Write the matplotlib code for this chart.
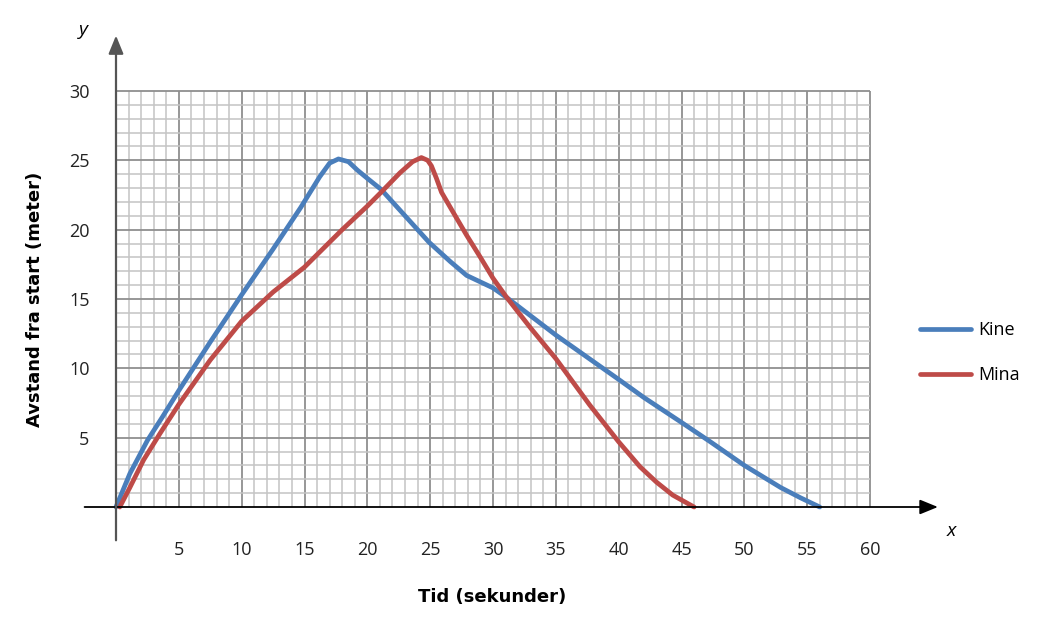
import numpy as np
import matplotlib
matplotlib.use("Agg")
import matplotlib.pyplot as plt

plt.rcParams['font.family'] = ['Open Sans', 'DejaVu Sans']

# data
kine_t = [0, 1.1, 2.5, 3.7, 5, 7.5, 10, 12.5, 14.7, 16.2, 17, 17.7, 18.5, 19.2, 20, 21.1,
          22.6, 24.9, 26.6, 27.9, 30, 31.1, 35, 40, 42, 45, 47.3, 50, 52.9, 54.5, 56]
kine_d = [0, 2.4, 4.8, 6.5, 8.4, 11.9, 15.3, 18.6, 21.6, 23.8, 24.8, 25.1, 24.9, 24.3, 23.7,
          22.9, 21.4, 19.1, 17.7, 16.7, 15.8, 15.1, 12.4, 9.2, 7.9, 6.1, 4.7, 3.0, 1.4, 0.65, 0]
mina_t = [0.3, 1.1, 2.2, 3.5, 5, 7.5, 10, 12.5, 15, 18, 20, 21.1, 22.6, 23.6, 24.3, 24.8,
          25.1, 25.5, 25.9, 26.8, 27.9, 29, 30, 31.1, 33, 35, 37.7, 40, 41.7, 43, 44.3, 45.8, 46]
mina_d = [0, 1.4, 3.4, 5.3, 7.4, 10.6, 13.4, 15.5, 17.3, 20.0, 21.7, 22.7, 24.1, 24.9, 25.2,
          25.0, 24.6, 23.7, 22.7, 21.3, 19.6, 18.0, 16.5, 15.1, 12.9, 10.7, 7.35, 4.7, 2.9,
          1.8, 0.86, 0.1, 0]
names = ['Kine', 'Mina']
colors = ['#4A7EBB', '#BE4B48']
x_ticks = [5, 10, 15, 20, 25, 30, 35, 40, 45, 50, 55, 60]
y_ticks = [5, 10, 15, 20, 25, 30]
x_max, y_max = 60, 30

fig = plt.figure(figsize=(10.52, 6.28), dpi=100)
# axes in pixel terms: x=0 at 116px, x=60 at 870px; y=0 at 507px, y=30 at 91px
W, H = 1052, 628
left_px, right_px, top_px, bot_px = 95, 940, 45, 535
ax = fig.add_axes([left_px / W, 1 - bot_px / H, (right_px - left_px) / W, (bot_px - top_px) / H])
sx = (870 - 116) / 60
sy = (507 - 91) / 30
ax.set_xlim(-(116 - left_px) / sx, (right_px - 116) / sx)
ax.set_ylim(-(bot_px - 507) / sy, (507 - top_px) / sy)

# grid paper
for v in np.arange(1, x_max + 1):
    major = v % 5 == 0
    ax.vlines(v, 0, y_max, color='#8f8f8f' if major else '#c4c4c4',
              lw=1.3 if major else 1.1, zorder=1)
for v in np.arange(1, y_max + 1):
    major = v % 5 == 0
    ax.hlines(v, 0, x_max, color='#8f8f8f' if major else '#c4c4c4',
              lw=1.3 if major else 1.1, zorder=1)

# axes with arrows
ax.annotate('', xy=(65.4, 0), xytext=(-2.5, 0), annotation_clip=False,
            arrowprops=dict(arrowstyle='-|>,head_length=1.1,head_width=0.45',
                            color='black', lw=1.3, shrinkA=0, shrinkB=0), zorder=4)
ax.annotate('', xy=(0, 34.0), xytext=(0, -2.4), annotation_clip=False,
            arrowprops=dict(arrowstyle='-|>,head_length=1.1,head_width=0.45',
                            color='#555555', lw=1.6, shrinkA=0, shrinkB=0), zorder=4)

ax.plot(kine_t, kine_d, color=colors[0], lw=3.4, label=names[0],
        solid_joinstyle='round', solid_capstyle='round', zorder=3)
ax.plot(mina_t, mina_d, color=colors[1], lw=3.4, label=names[1],
        solid_joinstyle='round', solid_capstyle='round', zorder=3)

for s in ax.spines.values():
    s.set_visible(False)
ax.set_xticks(x_ticks)
ax.set_yticks(y_ticks)
ax.tick_params(length=0, labelsize=13, colors='#222222')
ax.tick_params(axis='x', pad=4)
ax.tick_params(axis='y', pad=4)

ax.text(-2.6, 34.4, 'y', fontsize=14, style='italic', ha='center', va='center')
ax.text(66.5, -1.7, 'x', fontsize=14, style='italic', ha='center', va='center')

fig.text(35 / W, 1 - 299 / H, 'Avstand fra start (meter)', rotation=90, fontsize=13,
         fontweight='bold', ha='center', va='center', family='DejaVu Sans')
fig.text(492 / W, 1 - 597 / H, 'Tid (sekunder)', fontsize=13, fontweight='bold',
         ha='center', va='center', family='DejaVu Sans')

fig.legend(loc='upper left', bbox_to_anchor=(904 / W, 1 - 305 / H), frameon=False,
           fontsize=13, handlelength=2.8, labelspacing=1.5, handletextpad=0.4)

fig.savefig('out.png', dpi=100)
